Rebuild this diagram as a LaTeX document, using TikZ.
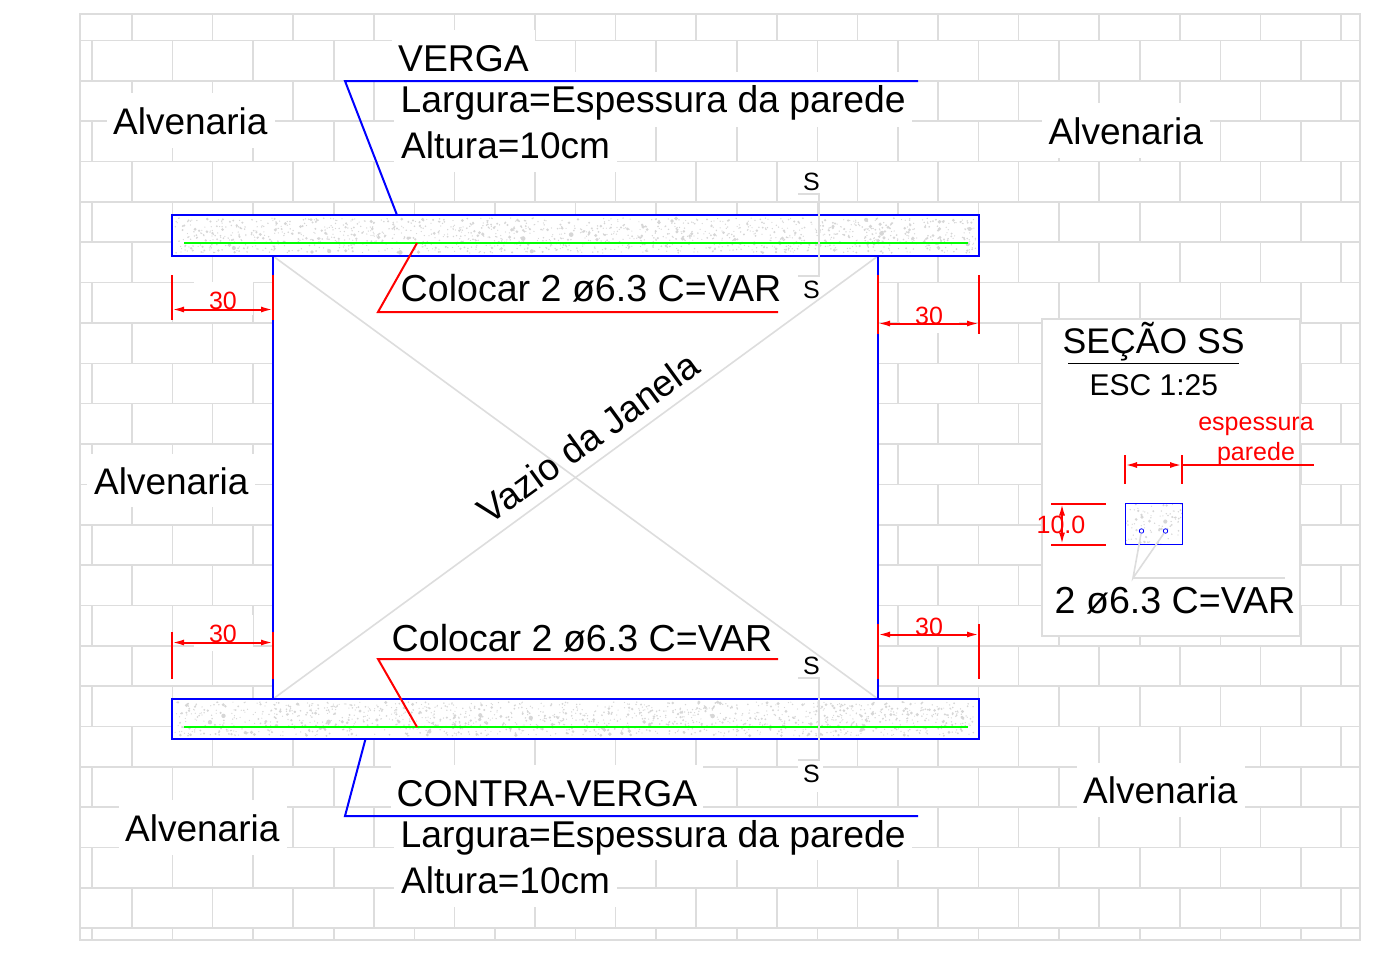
\documentclass[tikz,border=0pt]{standalone}
\usepackage{fontspec}
\setmainfont{Liberation Sans}
\usetikzlibrary{arrows.meta}
\definecolor{wallgray}{HTML}{DDDDDD}
\definecolor{dotgray}{HTML}{D6D6D6}
\newcommand{\stipple}[5]{%
  \fill[dotgray] \foreach \k in {1,...,#5} {
    ({#1+(#3-#1)*rnd},{#2+(#4-#2)*rnd}) circle ({0.6+2*rnd*rnd*rnd})
  };}
\begin{document}
\begin{tikzpicture}[
    x=1pt, y=-1pt,
    txt/.style={anchor=base west, inner sep=0pt, font=\fontsize{37}{40}\selectfont},
    txtwide/.style={txt, font=\fontsize{37.3}{40}\selectfont},
    dimtxt/.style={anchor=base, inner sep=0pt, red, font=\fontsize{25}{28}\selectfont},
    brick/.style={wallgray, line width=1.6pt},
    frameline/.style={wallgray, line width=2pt},
    beam/.style={draw=blue, line width=2.8pt},
    bar/.style={green, line width=2.2pt},
    leadblue/.style={blue, line width=2pt},
    leadred/.style={red, line width=2pt},
    dimline/.style={red, line width=2pt},
    dimarrow/.style={dimline, {Latex[length=12pt,width=6pt]}-{Latex[length=12pt,width=6pt]}}
]
    \useasboundingbox (0,0) rectangle (1393,954);

    % Brick courses
    \foreach \r in {0,...,22} {
        \pgfmathsetmacro{\yline}{40.5+40.35*\r}
        \draw[brick] (80,\yline) -- (1360,\yline);
    }
    \foreach \r/\xs in {-1/132,0/92,1/132,2/92,3/132,4/92,5/132,6/92,7/132,8/92,9/132,10/92,11/132,12/92,13/132,14/92,15/132,16/92,17/132,18/92,19/132,20/92,21/132,22/92} {
        \pgfmathsetmacro{\ya}{max(14,40.5+40.35*\r)}
        \pgfmathsetmacro{\yb}{min(940,40.5+40.35*(\r+1))}
        \foreach \n in {0,...,15} {
            \pgfmathsetmacro{\xv}{\xs+80.6*\n}
            \ifdim\xv pt<1360pt \draw[brick] (\xv,\ya) -- (\xv,\yb); \fi
        }
    }
    \draw[frameline] (80,14) rectangle (1360,940);

    % Cleared areas round the texts
    \foreach \xa/\ya/\xb/\yb in {107/93/275/148, 1042/103/1210/158, 87/454/255/507, 119/800/287/855, 1077/763/1245/817,
        392/30/535/72, 394/72/912/127, 394/127/617/172, 391/765/703/808, 394/808/912/860, 394/860/617/907,
        798/761/823/792, 194/282/253/315, 194/615/253/651, 900/297/959/333} {
        \fill[white] (\xa,\ya) rectangle (\xb,\yb);
    }

    % Window opening
    \fill[white] (273,256) rectangle (878,699);
    \coordinate (winTL) at (273,256);
    \coordinate (winTR) at (878,256);
    \coordinate (winBL) at (273,699);
    \coordinate (winBR) at (878,699);
    \draw[brick] (winTL) -- (winBR);
    \draw[brick] (winTR) -- (winBL);
    \draw[leadblue] (winTL) -- (winBL);
    \draw[leadblue] (winTR) -- (winBR);

    % Beams
    \pgfmathsetseed{11}
    \fill[white] (172,215) rectangle (979,256);
    \fill[white] (172,699) rectangle (979,739);
    \stipple{175}{218}{976}{253}{1500}
    \stipple{175}{702}{976}{736}{1500}
    \draw[beam] (172,215) rectangle (979,256);
    \draw[beam] (172,699) rectangle (979,739);
    \draw[bar] (184,243) -- (968,243);
    \draw[bar] (184,727) -- (968,727);

    % Section marks
    \draw[brick] (798,194) -- (819,194) -- (819,276) -- (798,276);
    \draw[brick] (798,678) -- (819,678) -- (819,760) -- (798,760);
    \node[dimtxt, black] (markTa) at (811.5,190) {S};
    \node[dimtxt, black] (markTb) at (811.5,298) {S};
    \node[dimtxt, black] (markBa) at (811.5,674) {S};
    \node[dimtxt, black] (markBb) at (811.5,782) {S};

    % Leaders
    \coordinate (vergaA) at (397,215);
    \coordinate (vergaB) at (345,81);
    \coordinate (vergaC) at (918,81);
    \draw[leadblue] (vergaA) -- (vergaB) -- (vergaC);
    \coordinate (contraA) at (365.5,739);
    \coordinate (contraB) at (345,816);
    \coordinate (contraC) at (918,816);
    \draw[leadblue] (contraA) -- (contraB) -- (contraC);
    \coordinate (barTa) at (417,243);
    \coordinate (barTb) at (378,312);
    \coordinate (barTc) at (778,312);
    \draw[leadred] (barTa) -- (barTb) -- (barTc);
    \coordinate (barBa) at (417,727);
    \coordinate (barBb) at (378,659);
    \coordinate (barBc) at (778,659);
    \draw[leadred] (barBa) -- (barBb) -- (barBc);

    % Dimensions of the beam overhang
    \foreach \xa/\xb/\yd/\ya/\yb in {172/273/309.5/275/320, 172/273/642.5/632/679, 878/979/323.5/275/334, 878/979/634.5/624/679} {
        \draw[dimline] (\xa,\ya) -- (\xa,\yb);
        \draw[dimline] (\xb,\ya) -- (\xb,\yb);
        \draw[dimarrow] (\xa,\yd) -- (\xb,\yd);
    }
    \node[dimtxt] (dimTL) at (223,309) {30};
    \node[dimtxt] (dimBL) at (223,642) {30};
    \node[dimtxt] (dimTR) at (929,324) {30};
    \node[dimtxt] (dimBR) at (929,635) {30};

    % Labels
    \node[txt] (wallTL) at (113,134) {Alvenaria};
    \node[txt] (wallTR) at (1048.5,144) {Alvenaria};
    \node[txt] (wallL) at (94,494) {Alvenaria};
    \node[txt] (wallBL) at (125,841) {Alvenaria};
    \node[txt] (wallBR) at (1083,803) {Alvenaria};
    \node[txtwide] (verga) at (398,71) {VERGA};
    \node[txtwide] (vergaW) at (400.5,112) {Largura=Espessura da parede};
    \node[txt] (vergaH) at (401,158) {Altura=10cm};
    \node[txtwide] (contra) at (396.5,806) {CONTRA-VERGA};
    \node[txtwide] (contraW) at (400.5,847) {Largura=Espessura da parede};
    \node[txt] (contraH) at (401,893) {Altura=10cm};
    \node[txt, font=\fontsize{37.6}{40}\selectfont] (barT) at (400.5,301) {Colocar 2 ø6.3 C=VAR};
    \node[txt, font=\fontsize{37.6}{40}\selectfont] (barB) at (391.5,651) {Colocar 2 ø6.3 C=VAR};
    \node[txtwide, rotate=36] (voidW) at (489.5,526) {Vazio da Janela};

    % Section panel
    \draw[frameline, fill=white] (1042,319) rectangle (1300,635.5);
    \node[txt, font=\fontsize{35.6}{40}\selectfont] (secTitle) at (1062.5,353) {SEÇÃO SS};
    \coordinate (ulA) at (1068,363);
    \coordinate (ulB) at (1239,363);
    \draw[black, line width=1pt] (ulA) -- (ulB);
    \node[txt, font=\fontsize{30}{34}\selectfont] (secScale) at (1089.5,395) {ESC 1:25};
    \node[dimtxt] (secThickA) at (1256,430.5) {espessura};
    \node[dimtxt] (secThickB) at (1256,460) {parede};

    % Section drawing
    \begin{scope}
        \clip (1125.5,503.5) rectangle (1182,544.5);
        \stipple{1126}{504}{1182}{544}{85}
    \end{scope}
    \draw[blue, line width=1pt] (1125.5,503.5) rectangle (1182,544.5);
    \node[circle, draw=blue, line width=.8pt, inner sep=0pt, minimum size=4.5pt] (rodA) at (1141.5,531) {};
    \node[circle, draw=blue, line width=.8pt, inner sep=0pt, minimum size=4.5pt] (rodB) at (1165.5,531) {};
    \coordinate (rodLa) at (1133,578);
    \coordinate (rodLb) at (1285,578);
    \draw[brick] (rodA) -- (rodLa) -- (rodB);
    \draw[brick] (rodLa) -- (rodLb);
    \node[txt, font=\fontsize{37.6}{40}\selectfont] (secBar) at (1054.5,613) {2 ø6.3 C=VAR};

    % Section dimensions
    \draw[dimline] (1125,455) -- (1125,484);
    \draw[dimline] (1182,455) -- (1182,484);
    \draw[dimarrow] (1125,465) -- (1182,465);
    \draw[dimline] (1182,465) -- (1314,465);
    \draw[dimline] (1051,503.5) -- (1106,503.5);
    \draw[dimline] (1051,544.5) -- (1106,544.5);
    \draw[dimarrow] (1062,503.5) -- (1062,544.5);
    \node[dimtxt] (secH) at (1061,533) {10.0};
\end{tikzpicture}
\end{document}
